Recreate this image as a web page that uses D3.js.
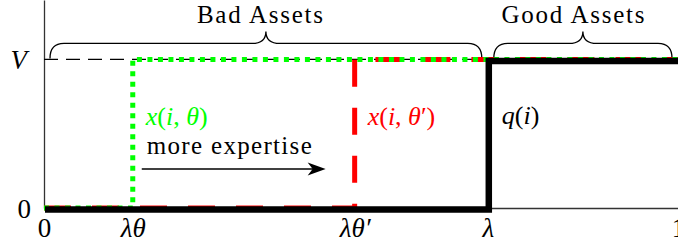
<!DOCTYPE html>
<html>
<head>
<meta charset="utf-8">
<script src="https://cdn.jsdelivr.net/npm/d3@7"></script>
<style>
  html, body { margin: 0; padding: 0; background: #fff; }
  svg { display: block; }
</style>
</head>
<body>
<svg id="chart" width="678" height="248"></svg>
<script>
// ---- data ----
var xTicks = [0, 0.14, 0.49, 0.7, 1];
var xTickLabels = ["0", "λθ", "λθ′", "λ", "1"];
var yTicks = [0, 1];
var yTickLabels = ["0", "V"];

var vLevel = [[0, 1], [0.7, 1]];                       // dashed V guide
var qPoints = [[0, 0], [0.7, 0], [0.7, 1], [1, 1]];     // q(i)
var xTheta = [[0, 0], [0.14, 0], [0.14, 1], [1, 1]];    // x(i, θ)
var xThetaP = [[0, 0], [0.49, 0], [0.49, 1], [1, 1]];   // x(i, θ')

var braceFrom = [0, 0.7];
var braceTo = [0.7, 1];
var braceLabels = ["Bad Assets", "Good Assets"];

var FONT = "'Liberation Serif', serif";

var svg = d3.select("#chart").attr("font-family", FONT);

var x = d3.scaleLinear().domain([0, 1]).range([44, 678]);
var y = d3.scaleLinear().domain([0, 1.4]).range([208, 0]);

var line = d3.line().x(d => x(d[0])).y(d => y(d[1]));

//************************ Axes *************************/
var xAxis = d3.axisBottom(x)
  .tickValues(xTicks)
  .tickSize(0)
  .tickFormat((d, i) => xTickLabels[i]);

var gx = svg.append("g")
  .attr("transform", "translate(0," + y(0) + ")")
  .call(xAxis);

gx.attr("font-family", FONT);
gx.select(".domain").attr("stroke", "#333").attr("stroke-width", 1.3);
gx.selectAll("text")
  .attr("y", 29)
  .attr("dy", null)
  .attr("font-size", 27)
  .attr("fill", "#000")
  .style("font-family", FONT)
  .style("font-style", (d, i) => (i == 0 || i == 4) ? "normal" : "italic");

var yAxis = d3.axisLeft(y)
  .tickValues(yTicks)
  .tickSize(0)
  .tickFormat((d, i) => yTickLabels[i]);

var gy = svg.append("g")
  .attr("transform", "translate(" + x(0) + ",0)")
  .call(yAxis);

gy.attr("font-family", FONT);
gy.select(".domain").attr("stroke", "#333").attr("stroke-width", 1.3);
gy.selectAll("text")
  .attr("x", (d, i) => i == 0 ? -13 : -17)
  .attr("dy", "0.34em")
  .attr("font-size", 27)
  .attr("fill", "#000")
  .style("font-family", FONT)
  .style("font-style", (d, i) => i == 0 ? "normal" : "italic");

//************************ Braces *************************/
function bracePath(x0, x1, yb) {
  var xc = (x0 + x1) / 2, r = 14;
  var yEnd = yb + 15, yTip = yb - 12;
  return "M" + x0 + "," + yEnd +
    " Q" + x0 + "," + yb + " " + (x0 + r) + "," + yb +
    " L" + (xc - r) + "," + yb +
    " Q" + xc + "," + yb + " " + xc + "," + yTip +
    " Q" + xc + "," + yb + " " + (xc + r) + "," + yb +
    " L" + (x1 - r) + "," + yb +
    " Q" + x1 + "," + yb + " " + x1 + "," + yEnd;
}

var braces = svg.append("g");
braceFrom.forEach(function(f, i) {
  var x0 = x(f) + 6, x1 = x(braceTo[i]) - 6;
  braces.append("path")
    .attr("d", bracePath(x0, x1, y(1) - 16))
    .attr("fill", "none")
    .attr("stroke", "#000")
    .attr("stroke-width", 1.3);
  braces.append("text")
    .attr("x", (x0 + x1) / 2 - (i == 0 ? 6 : 10))
    .attr("y", 23)
    .attr("text-anchor", "middle")
    .attr("font-size", 25)
    .attr("textLength", i == 0 ? 126 : 143)
    .attr("lengthAdjust", "spacing")
    .style("font-family", FONT)
    .text(braceLabels[i]);
});

//************************ Lines *************************/
svg.append("path")
  .attr("d", line(vLevel))
  .attr("fill", "none")
  .attr("stroke", "#000")
  .attr("stroke-width", 1.3)
  .attr("stroke-dasharray", "14,8");

svg.append("path")
  .attr("d", line(xThetaP))
  .attr("fill", "none")
  .attr("stroke", "#ff0000")
  .attr("stroke-width", 5)
  .attr("stroke-dasharray", "27,21");

svg.append("path")
  .attr("d", line(xTheta))
  .attr("fill", "none")
  .attr("stroke", "#00ff00")
  .attr("stroke-width", 5)
  .attr("stroke-dasharray", "5,5.5");

svg.append("path")
  .attr("d", line(qPoints))
  .attr("transform", "translate(1,1.5)")
  .attr("fill", "none")
  .attr("stroke", "#000")
  .attr("stroke-width", 6.5)
  .attr("stroke-linejoin", "miter");

//************************ Labels *************************/
function mathLabel(px, py, parts, color) {
  var t = svg.append("text")
    .attr("x", px)
    .attr("y", py)
    .attr("font-size", 26)
    .style("font-family", FONT)
    .attr("fill", color);
  parts.forEach(function(p) {
    t.append("tspan")
      .style("font-style", p[1] ? "italic" : "normal")
      .text(p[0]);
  });
}

mathLabel(x(0.14) + 13, 125, [["x", 1], ["(", 0], ["i", 1], [", ", 0], ["θ", 1], [")", 0]], "#00ff00");
mathLabel(x(0.49) + 13, 125, [["x", 1], ["(", 0], ["i", 1], [", ", 0], ["θ", 1], ["′", 0], [")", 0]], "#ff0000");
mathLabel(x(0.7) + 14, 124, [["q", 1], ["(", 0], ["i", 1], [")", 0]], "#000");

svg.append("text")
  .attr("x", x(0.14) + 14)
  .attr("y", 154)
  .attr("font-size", 25)
  .attr("textLength", 165)
  .attr("lengthAdjust", "spacing")
  .style("font-family", FONT)
  .text("more expertise");

// arrow
var ax0 = x(0.14) + 9, ax1 = x(0.49) - 29, ay = 169;
svg.append("line")
  .attr("x1", ax0).attr("x2", ax1 - 8)
  .attr("y1", ay).attr("y2", ay)
  .attr("stroke", "#000")
  .attr("stroke-width", 1.5);
svg.append("path")
  .attr("d", "M" + ax1 + "," + ay +
    " L" + (ax1 - 18) + "," + (ay - 6.5) +
    " L" + (ax1 - 13) + "," + ay +
    " L" + (ax1 - 18) + "," + (ay + 6.5) + " Z")
  .attr("fill", "#000");
</script>
</body>
</html>
